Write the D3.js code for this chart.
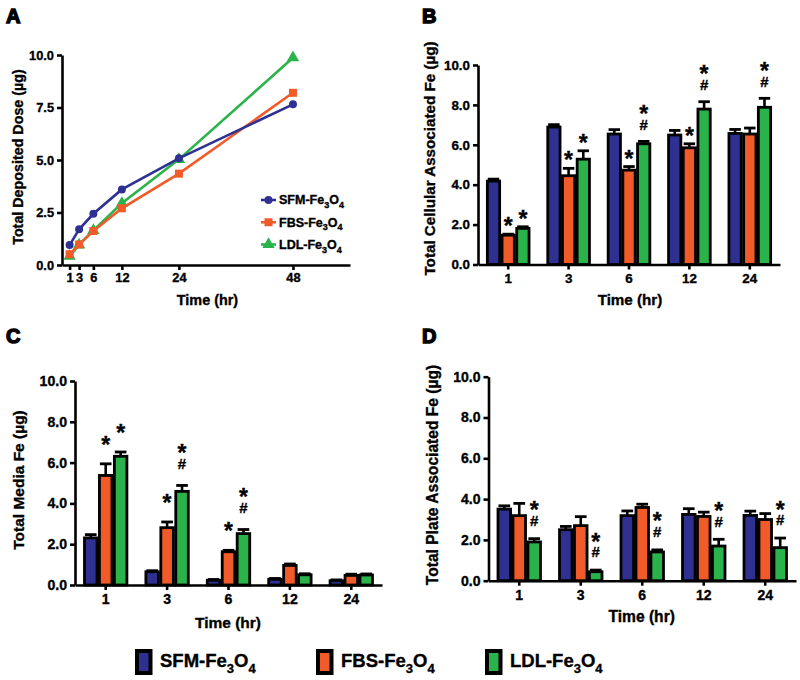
<!DOCTYPE html>
<html><head><meta charset="utf-8">
<script src="https://cdn.jsdelivr.net/npm/d3@7"></script>
<style>
body{margin:0;background:#fff}
svg{display:block;font-family:Arial,"Liberation Sans",Helvetica,sans-serif;font-weight:bold}
svg text{stroke:#000;stroke-width:0.35px}
</style></head>
<body>
<svg id="chart" width="800" height="680"></svg>
<script>
// ---------- DATA ----------
const seriesNames = ["SFM", "FBS", "LDL"];
const seriesColors = ["#2e3192", "#f15a29", "#29b34a"];

// Panel A: total deposited dose (µg) vs time
const timesA = [1, 3, 6, 12, 24, 48];
const sfmDose = [0.95, 1.70, 2.44, 3.60, 5.08, 7.65];
const fbsDose = [0.51, 0.98, 1.62, 2.70, 4.35, 8.20];
const ldlDose = [0.42, 0.96, 1.65, 2.94, 5.03, 9.87];
const yTicksA = [0, 2.5, 5, 7.5, 10];

// Bar panels: categories (time, hr)
const categories = ["1", "3", "6", "12", "24"];
const yTicksBars = [0, 2, 4, 6, 8, 10];

// Panel B: total cellular associated Fe
const cellSFM = [4.18, 6.89, 6.54, 6.49, 6.57];
const cellFBS = [1.47, 4.45, 4.73, 5.85, 6.54];
const cellLDL = [1.81, 5.28, 6.05, 7.79, 7.88];
const cellSFMerr = [0.10, 0.12, 0.22, 0.23, 0.20];
const cellFBSerr = [0.05, 0.37, 0.18, 0.20, 0.30];
const cellLDLerr = [0.08, 0.42, 0.12, 0.37, 0.45];
const cellFBSsig = ["*", "*", "*", "*", ""];
const cellLDLsig = ["*", "*", "*#", "*#", "*#"];

// Panel C: total media Fe
const mediaSFM = [2.31, 0.65, 0.23, 0.28, 0.21];
const mediaFBS = [5.37, 2.81, 1.63, 0.96, 0.47];
const mediaLDL = [6.31, 4.59, 2.52, 0.50, 0.49];
const mediaSFMerr = [0.16, 0.05, 0.04, 0.04, 0.04];
const mediaFBSerr = [0.57, 0.28, 0.07, 0.07, 0.06];
const mediaLDLerr = [0.21, 0.29, 0.20, 0.05, 0.05];
const mediaFBSsig = ["*", "*", "*", "", ""];
const mediaLDLsig = ["*", "*#", "*#", "", ""];

// Panel D: total plate associated Fe
const plateSFM = [3.51, 2.50, 3.19, 3.25, 3.20];
const plateFBS = [3.19, 2.70, 3.59, 3.15, 3.00];
const plateLDL = [1.90, 0.44, 1.41, 1.70, 1.62];
const plateSFMerr = [0.16, 0.16, 0.23, 0.28, 0.21];
const plateFBSerr = [0.60, 0.44, 0.16, 0.21, 0.29];
const plateLDLerr = [0.16, 0.08, 0.10, 0.33, 0.47];
const plateFBSsig = ["", "", "", "", ""];
const plateLDLsig = ["*#", "*#", "*#", "*#", "*#"];

// ---------- DRAW ----------
const svg = d3.select("#chart");
const FONT = 'Arial,"Liberation Sans",Helvetica,sans-serif';

function panelLetter(t, x, y) {
  svg.append("text").attr("x", x).attr("y", y).text(t)
    .attr("font-size", 20).attr("font-weight", "bold")
    .style("stroke", "#000").style("stroke-width", "1.4px").attr("fill", "#000");
}
function styleAxis(g, fs) {
  g.selectAll("path,line").attr("stroke", "#000").attr("stroke-width", 2.6);
  g.selectAll("text").attr("font-size", fs).attr("font-weight", "bold")
    .attr("font-family", FONT).attr("fill", "#000");
}
function yTitle(txt, x, y, fs) {
  svg.append("text").attr("transform", `translate(${x},${y}) rotate(-90)`)
    .attr("text-anchor", "middle").attr("dy", "0.35em")
    .attr("font-size", fs).attr("font-weight", "bold")
    .text(txt + " (µg)");
}
function xTitle(x, y, fs) {
  svg.append("text").attr("x", x).attr("y", y).attr("dy", "0.35em")
    .attr("text-anchor", "middle").attr("font-size", fs).text("Time (hr)");
}
function feLabel(g, x, y, name, size, sub) {
  const t = g.append("text").attr("x", x).attr("y", y).attr("dy", "0.35em")
    .attr("font-size", size).attr("font-weight", "bold");
  t.append("tspan").text(name + "-Fe");
  t.append("tspan").attr("font-size", sub).attr("dy", size * 0.3).text("3");
  t.append("tspan").attr("dy", -size * 0.3).text("O");
  t.append("tspan").attr("font-size", sub).attr("dy", size * 0.3).text("4");
  return t;
}

// ----- Panel A -----
(function () {
  const x = d3.scaleLinear().domain([-0.6, 60]).range([62, 350]);
  const y = d3.scaleLinear().domain([0, 10]).range([265, 55]);
  const ax = svg.append("g").attr("transform", "translate(0,265)")
    .call(d3.axisBottom(x).tickValues(timesA).tickFormat(d3.format("d")).tickSize(5).tickPadding(3).tickSizeOuter(0));
  styleAxis(ax, 12.8);
  const ay = svg.append("g").attr("transform", "translate(62,0)")
    .call(d3.axisLeft(y).tickValues(yTicksA).tickFormat(d3.format(".1f")).tickSize(5).tickPadding(3).tickSizeOuter(0));
  styleAxis(ay, 12.8);
  const data = [sfmDose, fbsDose, ldlDose];
  const shapes = [d3.symbolCircle, d3.symbolSquare, d3.symbolTriangle];
  const sizes = [50, 64, 66];
  const line = d3.line().x((d, i) => x(timesA[i])).y(d => y(d));
  [2, 1, 0].forEach(s => {
    svg.append("path").attr("d", line(data[s])).attr("fill", "none")
      .attr("stroke", seriesColors[s]).attr("stroke-width", 2.6);
    svg.append("g").selectAll("path").data(data[s]).join("path")
      .attr("transform", (d, i) => `translate(${x(timesA[i])},${y(d)})`)
      .attr("d", d3.symbol(shapes[s], sizes[s])).attr("fill", seriesColors[s]);
  });
  // legend
  const lg = svg.append("g");
  const rowY = d3.scalePoint().domain(seriesNames).range([200, 244.5]);
  seriesNames.forEach((n, s) => {
    const yy = rowY(n);
    lg.append("line").attr("x1", 261).attr("x2", 276).attr("y1", yy).attr("y2", yy)
      .attr("stroke", seriesColors[s]).attr("stroke-width", 2.6);
    lg.append("path").attr("transform", `translate(268.5,${yy})`)
      .attr("d", d3.symbol(shapes[s], sizes[s])).attr("fill", seriesColors[s]);
    feLabel(lg, 279, yy, n, 12.5, 9);
  });
  yTitle("Total Deposited Dose", 18, 157, 14.3);
  xTitle(207.5, 300, 14.4);
  panelLetter("A", 6, 23);
})();

// ----- Bar panels -----
function barPanel(cfg) {
  const x0 = d3.scaleBand().domain(categories).range(cfg.xr).paddingInner(0.27).paddingOuter(0.135);
  const x1 = d3.scaleBand().domain(seriesNames).range([0, x0.bandwidth()]);
  const y = d3.scaleLinear().domain([0, 10]).range(cfg.yr);
  const means = cfg.means, errs = cfg.errs, sigs = cfg.sigs;
  const g = svg.append("g");
  seriesNames.forEach((n, s) => {
    categories.forEach((c, i) => {
      const cx = x0(c) + x1(n) + x1.bandwidth() / 2;
      const top = y(means[s][i] + errs[s][i]);
      const capW = x1.bandwidth() * 0.78;
      g.append("line").attr("x1", cx).attr("x2", cx).attr("y1", y(means[s][i])).attr("y2", top)
        .attr("stroke", "#000").attr("stroke-width", 2.6);
      g.append("line").attr("x1", cx - capW / 2).attr("x2", cx + capW / 2).attr("y1", top).attr("y2", top)
        .attr("stroke", "#000").attr("stroke-width", 2.8);
    });
  });
  seriesNames.forEach((n, s) => {
    g.append("g").selectAll("rect").data(means[s]).join("rect")
      .attr("x", (d, i) => x0(categories[i]) + x1(n) + 1.2)
      .attr("width", x1.bandwidth() - 2.4)
      .attr("y", d => y(d))
      .attr("height", d => y(0) - y(d))
      .attr("fill", seriesColors[s]).attr("stroke", "#000").attr("stroke-width", 2.8);
  });
  // significance marks (one text element per bar)
  seriesNames.forEach((n, s) => {
    if (!sigs[s]) return;
    categories.forEach((c, i) => {
      const m = sigs[s][i];
      if (!m) return;
      const cx = x0(c) + x1(n) + x1.bandwidth() / 2;
      const top = y(means[s][i] + errs[s][i]);
      const t = g.append("text").attr("text-anchor", "middle");
      if (m.includes("#")) {
        const hashC = top - cfg.hashOff;
        const starC = hashC - 15.5;
        t.append("tspan").attr("x", cx).attr("y", starC + 13).attr("font-size", 23).text("*");
        t.append("tspan").attr("x", cx).attr("y", hashC + 5.3).attr("font-size", 15).text("#");
      } else {
        const starC = top - cfg.starOff;
        t.append("tspan").attr("x", cx).attr("y", starC + 13).attr("font-size", 23).text("*");
      }
    });
  });
  const ax = svg.append("g").attr("transform", `translate(0,${cfg.yr[0]})`)
    .call(d3.axisBottom(x0).tickSize(5).tickPadding(4).tickSizeOuter(0));
  styleAxis(ax, cfg.tickFs);
  const ay = svg.append("g").attr("transform", `translate(${cfg.xr[0]},0)`)
    .call(d3.axisLeft(y).tickValues(yTicksBars).tickFormat(d3.format(".1f")).tickSize(5).tickPadding(3).tickSizeOuter(0));
  styleAxis(ay, cfg.tickFs);
  yTitle(cfg.title, cfg.yt[0], cfg.yt[1], cfg.titleFs);
  xTitle(cfg.xt[0], cfg.xt[1], cfg.titleFs);
  panelLetter(cfg.letter, cfg.lp[0], cfg.lp[1]);
}

barPanel({
  letter: "B", lp: [422, 23], xr: [478, 780], yr: [264.5, 65],
  means: [cellSFM, cellFBS, cellLDL], errs: [cellSFMerr, cellFBSerr, cellLDLerr],
  sigs: [null, cellFBSsig, cellLDLsig], starOff: 13, hashOff: 17,
  tickFs: 13.4, titleFs: 15.2,
  title: "Total Cellular Associated Fe", yt: [430, 158.5], xt: [630, 300]
});
barPanel({
  letter: "C", lp: [6, 343], xr: [75, 382], yr: [585, 381],
  means: [mediaSFM, mediaFBS, mediaLDL], errs: [mediaSFMerr, mediaFBSerr, mediaLDLerr],
  sigs: [null, mediaFBSsig, mediaLDLsig], starOff: 24, hashOff: 22,
  tickFs: 14.1, titleFs: 15.5,
  title: "Total Media Fe", yt: [19, 480], xt: [228, 623]
});
barPanel({
  letter: "D", lp: [422, 343], xr: [488.5, 796], yr: [580.7, 376.7],
  means: [plateSFM, plateFBS, plateLDL], errs: [plateSFMerr, plateFBSerr, plateLDLerr],
  sigs: [null, plateFBSsig, plateLDLsig], starOff: 14, hashOff: 18,
  tickFs: 14, titleFs: 15.6,
  title: "Total Plate Associated Fe", yt: [433, 475], xt: [641.7, 617]
});

// ----- Bottom legend -----
(function () {
  const lx = d3.scaleOrdinal().domain(seriesNames).range([135, 316, 485]);
  const lg = svg.append("g");
  seriesNames.forEach((n, s) => {
    const x = lx(n);
    lg.append("rect").attr("x", x + 2).attr("y", 651).attr("width", 13.5).attr("height", 22)
      .attr("fill", seriesColors[s]).attr("stroke", "#000").attr("stroke-width", 4);
    feLabel(lg, x + 25, 661, n, 18.5, 13);
  });
})();
</script>
</body></html>
